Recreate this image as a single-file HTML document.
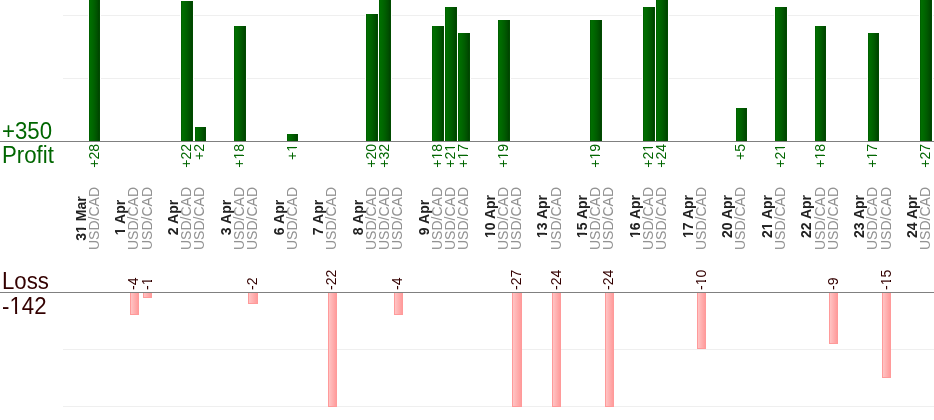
<!DOCTYPE html>
<html><head><meta charset="utf-8"><style>
html,body{margin:0;padding:0;background:#fff;}
body{width:934px;height:420px;position:relative;overflow:hidden;font-family:"Liberation Sans",sans-serif;-webkit-font-smoothing:antialiased;}
.rt,.big{will-change:transform;}
.hl{position:absolute;left:0;width:934px;height:1px;background:#808080;}
.gl{position:absolute;left:63px;width:871px;height:1px;background:#efefef;}
.big{position:absolute;left:2px;font-size:22px;line-height:22px;white-space:nowrap;transform:scale(1.01,1.05);transform-origin:0 0;}
.g{color:#006600;} .m{color:#330000;}
.rt{position:absolute;height:13px;line-height:13px;transform-origin:0 0;transform:rotate(-90deg);white-space:nowrap;font-size:14px;}
.c{top:277px;width:117px;text-align:center;}
.d{font-weight:bold;color:#222;}
.u{color:#929292;}
.pv{top:184.25px;width:40px;text-align:right;color:#006600;}
.lv{top:290.3px;width:40px;text-align:left;color:#330000;}
.o{position:relative;}
.o::before,.o::after{content:"";position:absolute;background:#fff;bottom:0.17em;height:0.15em;}
.o::before{left:0;width:0.245em;}
.o::after{left:0.347em;right:0;}
.d .o::before{width:0.227em;height:0.18em;}
.d .o::after{left:0.377em;height:0.18em;}
.pb{position:absolute;background:linear-gradient(to right,#005800 0%,#006e00 12%,#006800 30%,#005c00 55%,#004e00 78%,#004400 90%,#005000 100%);box-shadow:1px 0 0 #fff,-1px 0 0 #fff;}
.lb{position:absolute;box-sizing:border-box;border:1px solid #ff9a9a;border-top:none;background:linear-gradient(to right,#ffc4c4 0%,#ffb0b0 50%,#ff9c9c 100%);}
</style></head><body>
<div class="gl" style="top:15px"></div>
<div class="gl" style="top:78px"></div>
<div class="gl" style="top:349px"></div>
<div class="gl" style="top:406px"></div>
<div class="hl" style="top:141px"></div>
<div class="hl" style="top:292px"></div>
<div class="big g" style="top:119.5px">+350</div>
<div class="big g" style="top:144.4px">Profit</div>
<div class="big m" style="top:270px">Loss</div>
<div class="big m" style="top:295px">-<span class="o">1</span>42</div>
<div class="rt c d" style="left:75px;top:277px">3<span class="o">1</span> Mar</div>
<div class="rt c u" style="left:88px">USD/CAD</div>
<div class="pb" style="left:89px;top:0px;width:11px;height:141px"></div>
<div class="rt pv" style="left:88px">+28</div>
<div class="rt c d" style="left:114px;top:275.8px"><span class="o">1</span> Apr</div>
<div class="rt c u" style="left:127px">USD/CAD</div>
<div class="lb" style="left:130px;top:293px;width:9px;height:22px"></div>
<div class="rt lv" style="left:127px">-4</div>
<div class="rt c u" style="left:141px">USD/CAD</div>
<div class="lb" style="left:143px;top:293px;width:9px;height:5px"></div>
<div class="rt lv" style="left:141px">-<span class="o">1</span></div>
<div class="rt c d" style="left:167px;top:275.8px">2 Apr</div>
<div class="rt c u" style="left:180px">USD/CAD</div>
<div class="pb" style="left:181px;top:1px;width:12px;height:140px"></div>
<div class="rt pv" style="left:180px">+22</div>
<div class="rt c u" style="left:193px">USD/CAD</div>
<div class="pb" style="left:195px;top:127px;width:11px;height:14px"></div>
<div class="rt pv" style="left:193px">+2</div>
<div class="rt c d" style="left:220px;top:275.8px">3 Apr</div>
<div class="rt c u" style="left:233px">USD/CAD</div>
<div class="pb" style="left:234px;top:26px;width:12px;height:115px"></div>
<div class="rt pv" style="left:233px">+<span class="o">1</span>8</div>
<div class="rt c u" style="left:246px">USD/CAD</div>
<div class="lb" style="left:248px;top:293px;width:10px;height:11px"></div>
<div class="rt lv" style="left:246px">-2</div>
<div class="rt c d" style="left:273px;top:275.8px">6 Apr</div>
<div class="rt c u" style="left:286px">USD/CAD</div>
<div class="pb" style="left:287px;top:134px;width:11px;height:7px"></div>
<div class="rt pv" style="left:286px">+<span class="o">1</span></div>
<div class="rt c d" style="left:312px;top:275.8px">7 Apr</div>
<div class="rt c u" style="left:325px">USD/CAD</div>
<div class="lb" style="left:328px;top:293px;width:9px;height:114px"></div>
<div class="rt lv" style="left:325px">-22</div>
<div class="rt c d" style="left:352px;top:275.8px">8 Apr</div>
<div class="rt c u" style="left:365px">USD/CAD</div>
<div class="pb" style="left:366px;top:14px;width:12px;height:127px"></div>
<div class="rt pv" style="left:365px">+20</div>
<div class="rt c u" style="left:378px">USD/CAD</div>
<div class="pb" style="left:379px;top:0px;width:12px;height:141px"></div>
<div class="rt pv" style="left:378px">+32</div>
<div class="rt c u" style="left:391px">USD/CAD</div>
<div class="lb" style="left:394px;top:293px;width:9px;height:22px"></div>
<div class="rt lv" style="left:391px">-4</div>
<div class="rt c d" style="left:418px;top:275.8px">9 Apr</div>
<div class="rt c u" style="left:431px">USD/CAD</div>
<div class="pb" style="left:432px;top:26px;width:12px;height:115px"></div>
<div class="rt pv" style="left:431px">+<span class="o">1</span>8</div>
<div class="rt c u" style="left:444px">USD/CAD</div>
<div class="pb" style="left:445px;top:7px;width:12px;height:134px"></div>
<div class="rt pv" style="left:444px">+2<span class="o">1</span></div>
<div class="rt c u" style="left:457px">USD/CAD</div>
<div class="pb" style="left:458px;top:33px;width:12px;height:108px"></div>
<div class="rt pv" style="left:457px">+<span class="o">1</span>7</div>
<div class="rt c d" style="left:484px;top:275.0px"><span class="o">1</span>0 Apr</div>
<div class="rt c u" style="left:497px">USD/CAD</div>
<div class="pb" style="left:498px;top:20px;width:12px;height:121px"></div>
<div class="rt pv" style="left:497px">+<span class="o">1</span>9</div>
<div class="rt c u" style="left:510px">USD/CAD</div>
<div class="lb" style="left:512px;top:293px;width:10px;height:114px"></div>
<div class="rt lv" style="left:510px">-27</div>
<div class="rt c d" style="left:536px;top:275.0px"><span class="o">1</span>3 Apr</div>
<div class="rt c u" style="left:550px">USD/CAD</div>
<div class="lb" style="left:552px;top:293px;width:9px;height:114px"></div>
<div class="rt lv" style="left:550px">-24</div>
<div class="rt c d" style="left:576px;top:275.0px"><span class="o">1</span>5 Apr</div>
<div class="rt c u" style="left:589px">USD/CAD</div>
<div class="pb" style="left:590px;top:20px;width:12px;height:121px"></div>
<div class="rt pv" style="left:589px">+<span class="o">1</span>9</div>
<div class="rt c u" style="left:602px">USD/CAD</div>
<div class="lb" style="left:605px;top:293px;width:9px;height:114px"></div>
<div class="rt lv" style="left:602px">-24</div>
<div class="rt c d" style="left:629px;top:275.0px"><span class="o">1</span>6 Apr</div>
<div class="rt c u" style="left:642px">USD/CAD</div>
<div class="pb" style="left:643px;top:7px;width:12px;height:134px"></div>
<div class="rt pv" style="left:642px">+2<span class="o">1</span></div>
<div class="rt c u" style="left:655px">USD/CAD</div>
<div class="pb" style="left:656px;top:0px;width:12px;height:141px"></div>
<div class="rt pv" style="left:655px">+24</div>
<div class="rt c d" style="left:682px;top:275.0px"><span class="o">1</span>7 Apr</div>
<div class="rt c u" style="left:695px">USD/CAD</div>
<div class="lb" style="left:697px;top:293px;width:9px;height:56px"></div>
<div class="rt lv" style="left:695px">-<span class="o">1</span>0</div>
<div class="rt c d" style="left:721px;top:275.0px">20 Apr</div>
<div class="rt c u" style="left:734px">USD/CAD</div>
<div class="pb" style="left:736px;top:108px;width:11px;height:33px"></div>
<div class="rt pv" style="left:734px">+5</div>
<div class="rt c d" style="left:761px;top:275.0px">2<span class="o">1</span> Apr</div>
<div class="rt c u" style="left:774px">USD/CAD</div>
<div class="pb" style="left:775px;top:7px;width:12px;height:134px"></div>
<div class="rt pv" style="left:774px">+2<span class="o">1</span></div>
<div class="rt c d" style="left:800px;top:275.0px">22 Apr</div>
<div class="rt c u" style="left:814px">USD/CAD</div>
<div class="pb" style="left:815px;top:26px;width:11px;height:115px"></div>
<div class="rt pv" style="left:814px">+<span class="o">1</span>8</div>
<div class="rt c u" style="left:827px">USD/CAD</div>
<div class="lb" style="left:829px;top:293px;width:9px;height:51px"></div>
<div class="rt lv" style="left:827px">-9</div>
<div class="rt c d" style="left:853px;top:275.0px">23 Apr</div>
<div class="rt c u" style="left:866px">USD/CAD</div>
<div class="pb" style="left:868px;top:33px;width:11px;height:108px"></div>
<div class="rt pv" style="left:866px">+<span class="o">1</span>7</div>
<div class="rt c u" style="left:880px">USD/CAD</div>
<div class="lb" style="left:882px;top:293px;width:9px;height:85px"></div>
<div class="rt lv" style="left:880px">-<span class="o">1</span>5</div>
<div class="rt c d" style="left:906px;top:275.0px">24 Apr</div>
<div class="rt c u" style="left:919px">USD/CAD</div>
<div class="pb" style="left:920px;top:0px;width:12px;height:141px"></div>
<div class="rt pv" style="left:919px">+27</div>
</body></html>
